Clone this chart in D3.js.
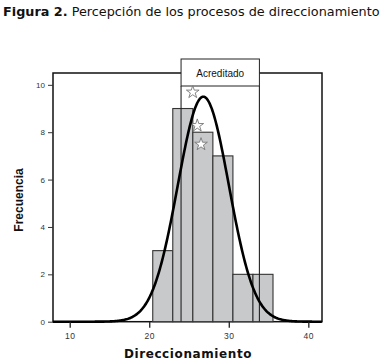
<!DOCTYPE html>
<html>
<head>
<meta charset="utf-8">
<script src="https://cdn.jsdelivr.net/npm/d3@7"></script>
<style>
  body { margin: 0; background: #fff; }
  svg { display: block; }
</style>
</head>
<body>
<div id="chart"></div>
<script>
// histogram bins (Direccionamiento) and counts
const binEdges = [20.44, 22.96, 25.48, 28.0, 30.52, 33.04, 35.56];
const counts = [3, 9, 8, 7, 2, 2];
const xTicks = [10, 20, 30, 40];
const yTicks = [0, 2, 4, 6, 8, 10];
// fitted normal curve
const curveMean = 26.8;
const curveSd = 3.21;
const curvePeak = 9.5;
// "Acreditado" band and star markers
const bandRange = [24.0, 33.85];
const bandLabel = "Acreditado";
const starX = [25.47, 26.04, 26.51];
const starY = [9.69, 8.28, 7.49];

const svg = d3.select("#chart").append("svg")
    .attr("width", 385)
    .attr("height", 364);

// title
const title = svg.append("text")
    .attr("x", 3)
    .attr("y", 16)
    .attr("font-family", "DejaVu Sans, Verdana, sans-serif")
    .attr("font-size", 12.8)
    .attr("fill", "#111");
title.append("tspan").attr("font-weight", "bold").text("Figura 2.");
title.append("tspan").text(" Percepción de los procesos de direccionamiento");

const margin = { left: 53, right: 322, top: 73, bottom: 321.7 };

const x = d3.scaleLinear()
    .domain([7.9, 41.72])
    .range([margin.left, margin.right]);

const y = d3.scaleLinear()
    .domain([0, 10.5])
    .range([margin.bottom, margin.top]);

// plot frame
svg.append("rect")
    .attr("x", margin.left)
    .attr("y", margin.top)
    .attr("width", margin.right - margin.left)
    .attr("height", margin.bottom - margin.top)
    .attr("fill", "none")
    .attr("stroke", "#111")
    .attr("stroke-width", 1.5);

// bars
const bins = counts.map((c, i) => ({ x0: binEdges[i], x1: binEdges[i + 1], n: c }));
svg.selectAll(".bar")
    .data(bins)
    .join("rect")
    .attr("class", "bar")
    .attr("x", d => x(d.x0))
    .attr("y", d => y(d.n))
    .attr("width", d => x(d.x1) - x(d.x0))
    .attr("height", d => y(0) - y(d.n))
    .attr("fill", "#c8c9cb")
    .attr("stroke", "#333")
    .attr("stroke-width", 1.1);

// Acreditado band
const bandTop = 59;
const bandHead = 86;
svg.append("rect")
    .attr("x", x(bandRange[0]))
    .attr("y", bandTop)
    .attr("width", x(bandRange[1]) - x(bandRange[0]))
    .attr("height", bandHead - bandTop)
    .attr("fill", "#fff")
    .attr("stroke", "#222")
    .attr("stroke-width", 1);

bandRange.forEach(v => {
    svg.append("line")
        .attr("x1", x(v)).attr("x2", x(v))
        .attr("y1", bandHead).attr("y2", margin.bottom)
        .attr("stroke", "#222")
        .attr("stroke-width", 1.1);
});

svg.append("text")
    .attr("x", (x(bandRange[0]) + x(bandRange[1])) / 2)
    .attr("y", 76.5)
    .attr("text-anchor", "middle")
    .attr("font-family", "Liberation Sans, Arial, sans-serif")
    .attr("font-size", 10)
    .attr("fill", "#111")
    .text(bandLabel);

// stars
const star = d3.symbol().type(d3.symbolStar).size(50);
starX.forEach((sx, i) => {
    svg.append("path")
        .attr("d", star())
        .attr("transform", `translate(${x(sx)},${y(starY[i])})`)
        .attr("fill", "#fff")
        .attr("stroke", "#777")
        .attr("stroke-width", 0.9);
});

// normal curve
const pts = d3.range(x.domain()[0], x.domain()[1] + 0.01, 0.1).map(v => [v,
    curvePeak * Math.exp(-Math.pow(v - curveMean, 2) / (2 * curveSd * curveSd))]);
svg.append("path")
    .datum(pts)
    .attr("d", d3.line().x(d => x(d[0])).y(d => y(d[1])).curve(d3.curveBasis))
    .attr("fill", "none")
    .attr("stroke", "#000")
    .attr("stroke-width", 2.6);

// axes
const xAxis = svg.append("g")
    .attr("transform", `translate(0,${margin.bottom})`)
    .call(d3.axisBottom(x).tickValues(xTicks).tickSize(6).tickSizeOuter(0).tickPadding(5));
xAxis.select(".domain").remove();
xAxis.selectAll("line").attr("stroke", "#222").attr("stroke-width", 1.3);
xAxis.selectAll("text")
    .attr("font-family", "Liberation Sans, Arial, sans-serif")
    .attr("font-size", 8.5)
    .attr("letter-spacing", 0.5)
    .attr("fill", "#333");

const yAxis = svg.append("g")
    .attr("transform", `translate(${margin.left},0)`)
    .call(d3.axisLeft(y).tickValues(yTicks).tickSize(5).tickSizeOuter(0).tickPadding(3));
yAxis.select(".domain").remove();
yAxis.selectAll("line").attr("stroke", "#333").attr("stroke-width", 1);
yAxis.selectAll("text")
    .attr("font-family", "Liberation Sans, Arial, sans-serif")
    .attr("font-size", 8)
    .attr("fill", "#333");

// axis titles
svg.append("text")
    .attr("x", 188)
    .attr("y", 357.5)
    .attr("text-anchor", "middle")
    .attr("font-family", "DejaVu Sans, Verdana, sans-serif")
    .attr("font-weight", "bold")
    .attr("font-size", 12)
    .attr("letter-spacing", 0.6)
    .attr("fill", "#111")
    .text("Direccionamiento");

svg.append("text")
    .attr("transform", "translate(23,200) rotate(-90)")
    .attr("text-anchor", "middle")
    .attr("font-family", "Liberation Sans Narrow, Arial Narrow, Liberation Sans, sans-serif")
    .attr("font-weight", "bold")
    .attr("font-size", 12)
    .attr("fill", "#111")
    .text("Frecuencia");
</script>
</body>
</html>
